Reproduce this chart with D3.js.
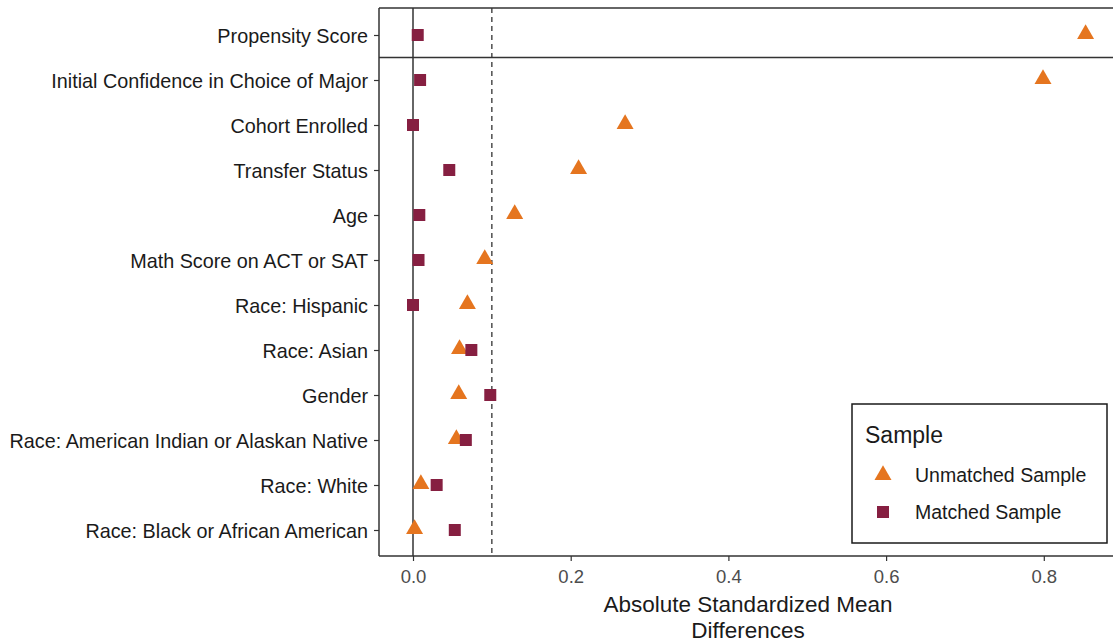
<!DOCTYPE html>
<html>
<head>
<meta charset="utf-8">
<script src="https://cdn.jsdelivr.net/npm/d3@7"></script>
<style>
  html, body { margin: 0; padding: 0; background: #fff; }
  svg { display: block; font-family: "Liberation Sans", Arial, sans-serif; }
</style>
</head>
<body>
<svg id="chart" width="1113" height="643"></svg>
<script>
// Covariates, top to bottom
const covariates = [
  "Propensity Score",
  "Initial Confidence in Choice of Major",
  "Cohort Enrolled",
  "Transfer Status",
  "Age",
  "Math Score on ACT or SAT",
  "Race: Hispanic",
  "Race: Asian",
  "Gender",
  "Race: American Indian or Alaskan Native",
  "Race: White",
  "Race: Black or African American"
];
// Absolute standardized mean differences
const unmatched = [0.853, 0.799, 0.269, 0.210, 0.129, 0.091, 0.069, 0.059, 0.058, 0.055, 0.010, 0.002];
const matched   = [0.006, 0.009, 0.000, 0.046, 0.008, 0.007, 0.000, 0.074, 0.098, 0.067, 0.030, 0.053];
const xTicks = [0.0, 0.2, 0.4, 0.6, 0.8];
const threshold = 0.1;
const seriesNames = ["Unmatched Sample", "Matched Sample"];
const seriesColors = ["#E5751F", "#861F41"];

const svg = d3.select("#chart");
const panel = { left: 379, top: 8, right: 1116, bottom: 556 };
const fontFamily = "'Liberation Sans', Arial, sans-serif";

const x = d3.scaleLinear().domain([0, 0.8]).range([413, 413 + 0.8 * 788.5]);
const y = d3.scalePoint().domain(covariates).range([35, 530]);

const axisColor = "#333333";

// Panel top border
svg.append("line").attr("x1", panel.left).attr("x2", panel.right)
  .attr("y1", panel.top).attr("y2", panel.top)
  .attr("stroke", axisColor).attr("stroke-width", 1.5);

// Separator below the propensity score row
const sepY = (y(covariates[0]) + y(covariates[1])) / 2;
svg.append("line").attr("x1", panel.left).attr("x2", panel.right)
  .attr("y1", sepY).attr("y2", sepY)
  .attr("stroke", axisColor).attr("stroke-width", 1.5);

// Zero reference line
svg.append("line").attr("x1", x(0)).attr("x2", x(0))
  .attr("y1", panel.top).attr("y2", panel.bottom)
  .attr("stroke", axisColor).attr("stroke-width", 1.5);

// Balance threshold
svg.append("line").attr("x1", x(threshold)).attr("x2", x(threshold))
  .attr("y1", panel.top).attr("y2", panel.bottom)
  .attr("stroke", axisColor).attr("stroke-width", 1.3)
  .attr("stroke-dasharray", "5,4");

// X axis
const xAxis = svg.append("g").attr("transform", `translate(0,${panel.bottom})`)
  .call(d3.axisBottom(x).tickValues(xTicks).tickFormat(d3.format(".1f")).tickSize(5).tickPadding(9));
xAxis.select(".domain").remove();
svg.append("line").attr("x1", panel.left).attr("x2", panel.right)
  .attr("y1", panel.bottom).attr("y2", panel.bottom)
  .attr("stroke", axisColor).attr("stroke-width", 1.5);
xAxis.selectAll(".tick line").attr("stroke", axisColor).attr("stroke-width", 1.2);
xAxis.selectAll(".tick text").attr("fill", "#4d4d4d").attr("font-size", 18.5)
  .attr("font-family", fontFamily);

// Y axis
const yAxis = svg.append("g").attr("transform", `translate(${panel.left},0)`)
  .call(d3.axisLeft(y).tickSize(5).tickPadding(6));
yAxis.select(".domain").remove();
svg.append("line").attr("x1", panel.left).attr("x2", panel.left)
  .attr("y1", panel.top).attr("y2", panel.bottom)
  .attr("stroke", axisColor).attr("stroke-width", 1.5);
yAxis.selectAll(".tick line").attr("stroke", axisColor).attr("stroke-width", 1.2);
yAxis.selectAll(".tick text").attr("fill", "#1a1a1a").attr("font-size", 19.8)
  .attr("font-family", fontFamily).attr("dy", "0.38em");

// X axis title
const xTitle = svg.append("text").attr("text-anchor", "middle")
  .attr("font-size", 22.5).attr("fill", "#1a1a1a").attr("font-family", fontFamily);
xTitle.append("tspan").attr("x", 748).attr("y", 612).text("Absolute Standardized Mean");
xTitle.append("tspan").attr("x", 748).attr("y", 638).text("Differences");

// Markers
const triangle = d3.symbol().type(d3.symbolTriangle).size(125);
const square = d3.symbol().type(d3.symbolSquare).size(144);

svg.append("g").selectAll("path")
  .data(covariates.map((c, i) => ({ c, v: unmatched[i] })))
  .join("path")
  .attr("d", triangle)
  .attr("transform", d => `translate(${x(d.v)},${y(d.c) - 1})`)
  .attr("fill", seriesColors[0]);

svg.append("g").selectAll("path")
  .data(covariates.map((c, i) => ({ c, v: matched[i] })))
  .join("path")
  .attr("d", square)
  .attr("transform", d => `translate(${x(d.v)},${y(d.c)})`)
  .attr("fill", seriesColors[1]);

// Legend
const legend = svg.append("g").attr("font-family", fontFamily);
legend.append("rect").attr("x", 852).attr("y", 404).attr("width", 255).attr("height", 139)
  .attr("fill", "#fff").attr("stroke", "#1a1a1a").attr("stroke-width", 1.5);
legend.append("text").attr("x", 865).attr("y", 443).attr("font-size", 23)
  .attr("fill", "#1a1a1a").text("Sample");
const legendY = [475, 512];
legend.append("path").attr("d", triangle)
  .attr("transform", `translate(883,${legendY[0]})`).attr("fill", seriesColors[0]);
legend.append("path").attr("d", square)
  .attr("transform", `translate(883,${legendY[1]})`).attr("fill", seriesColors[1]);
seriesNames.forEach((name, i) => {
  legend.append("text").attr("x", 915).attr("y", legendY[i]).attr("dy", "0.36em")
    .attr("font-size", 19.5).attr("fill", "#1a1a1a").text(name);
});
</script>
</body>
</html>
